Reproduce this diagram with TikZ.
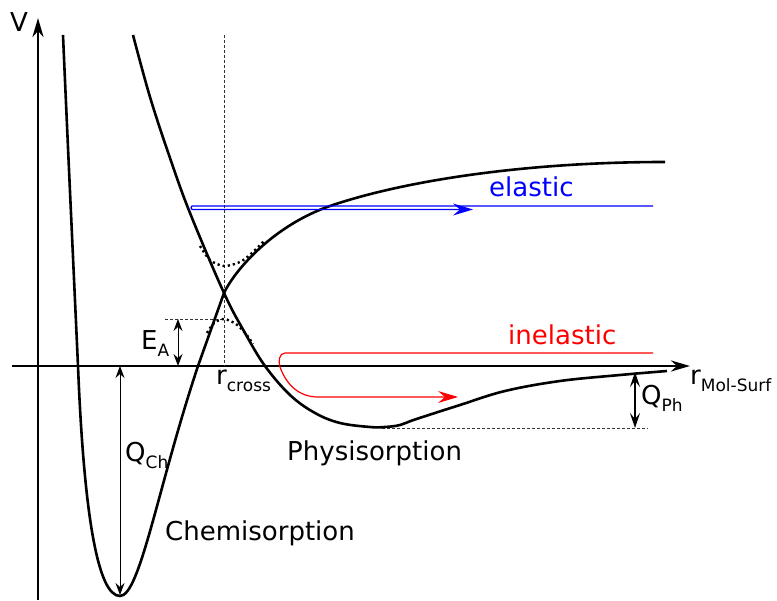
\documentclass[tikz,border=0pt]{standalone}
\usepackage{fontspec}
\setmainfont{DejaVu Sans}
\usetikzlibrary{arrows.meta}
\newcommand{\lbl}[1]{\fontsize{26}{30}\selectfont #1}
\newcommand{\subtx}[1]{\raisebox{-7pt}{\fontsize{17}{20}\selectfont #1}}
\tikzset{
  axisline/.style={line width=2.8pt,-{Stealth[length=19pt,width=11pt,inset=6pt]}},
  curve/.style={line width=2.6pt,line join=round},
  guide/.style={line width=0.9pt,dash pattern=on 3pt off 2pt,black!80},
  dotcurve/.style={line width=2.4pt,dash pattern=on 2.2pt off 3pt},
  thinarrow/.style={line width=1pt,{Stealth[length=12pt,width=9pt,inset=4pt]}-{Stealth[length=12pt,width=9pt,inset=4pt]}},
  thickarrow/.style={line width=2pt,{Stealth[length=15pt,width=10pt,inset=6pt]}-{Stealth[length=15pt,width=10pt,inset=6pt]}},
  txt/.style={anchor=base west,inner sep=0pt,font=\lbl},
}
\begin{document}
\begin{tikzpicture}[x=1pt,y=-1pt]
\useasboundingbox (0,0) rectangle (777,601);
% coordinates
\coordinate (vbot) at (38,600);
\coordinate (vtop) at (38,18);
\coordinate (rleft) at (12,366);
\coordinate (rright) at (690,366);
\coordinate (crosstop) at (224,35);
\coordinate (crossbot) at (224,366);
\coordinate (eaL) at (165,319);
\coordinate (eaR) at (224,319);
\coordinate (eaTop) at (178,319);
\coordinate (eaBot) at (178,366);
\coordinate (qchTop) at (120,366);
\coordinate (qchBot) at (120,595);
\coordinate (qphTop) at (635,372);
\coordinate (qphBot) at (635,428);
\coordinate (phL) at (382,428);
\coordinate (phR) at (648,428);
% axes
\draw[axisline] (vbot) -- (vtop);
\draw[axisline] (rleft) -- (rright);
% guides
\draw[guide] (crosstop) -- (crossbot);
\draw[guide] (eaL) -- (eaR);
\draw[guide] (phL) -- (phR);
% chemisorption curve
\draw[curve] (63,35) .. controls (68,150) and (75,300) .. (78,366)
  .. controls (84,516) and (98,596) .. (120,596)
  .. controls (140,596) and (158,486) .. (198,366)
  -- (224,293)
  .. controls (236,268) and (275,225) .. (330,206)
  .. controls (400,182) and (520,162) .. (665,162);
% physisorption curve
\draw[curve] plot[smooth,tension=0.6] coordinates {(133,35) (150,97) (170,158) (190,213) (224,293) (245,333) (265,366) (290,395) (315,413) (340,423) (370,427) (385,427) (400,425) (415,419.5) (460,405) (505,391) (560,381) (620,375) (667,371)};
% avoided crossing dotted
\draw[dotcurve] plot[smooth] coordinates {(200,246) (210,260) (224,266) (240,262) (252,253) (265,240)};
\draw[dotcurve] plot[smooth] coordinates {(207,333) (214,323) (224,319) (236,324) (246,334) (253,344)};
% energy arrows
\draw[thinarrow] (eaTop) -- (eaBot);
\draw[thinarrow] (qchTop) -- (qchBot);
\draw[thickarrow] (qphTop) -- (qphBot);
% elastic
\coordinate (elA) at (653,206);
\coordinate (elB) at (192,206);
\coordinate (elC) at (192,209.5);
\coordinate (elD) at (473,209.5);
\draw[blue,line width=1.2pt,-{Stealth[length=20pt,width=12pt,inset=7pt]}] (elA) -- (elB) to[out=180,in=180] (elC) -- (elD);
% inelastic
\coordinate (inA) at (653,353);
\coordinate (inB) at (458,397);
\draw[red,line width=1.2pt,-{Stealth[length=20pt,width=12pt,inset=7pt]}] (inA) -- (285,353) to[out=180,in=110] (280,367) to[out=-70,in=180] (318,397) -- (inB);
% labels
\node[txt] (lV) at (10,32) {V};
\node[txt] (lr) at (690,385) {r\subtx{Mol-Surf}};
\node[txt] (lrc) at (216,385) {r\subtx{cross}};
\node[txt] (lEA) at (141,350) {E\subtx{A}};
\node[txt] (lQch) at (125,462) {Q\subtx{Ch}};
\node[txt] (lQph) at (641,405) {Q\subtx{Ph}};
\node[txt] (lphys) at (287,461) {Physisorption};
\node[txt] (lchem) at (165,540) {Chemisorption};
\node[txt,text=blue] (lel) at (489,197) {elastic};
\node[txt,text=red] (linel) at (508,345) {inelastic};
\end{tikzpicture}
\end{document}
